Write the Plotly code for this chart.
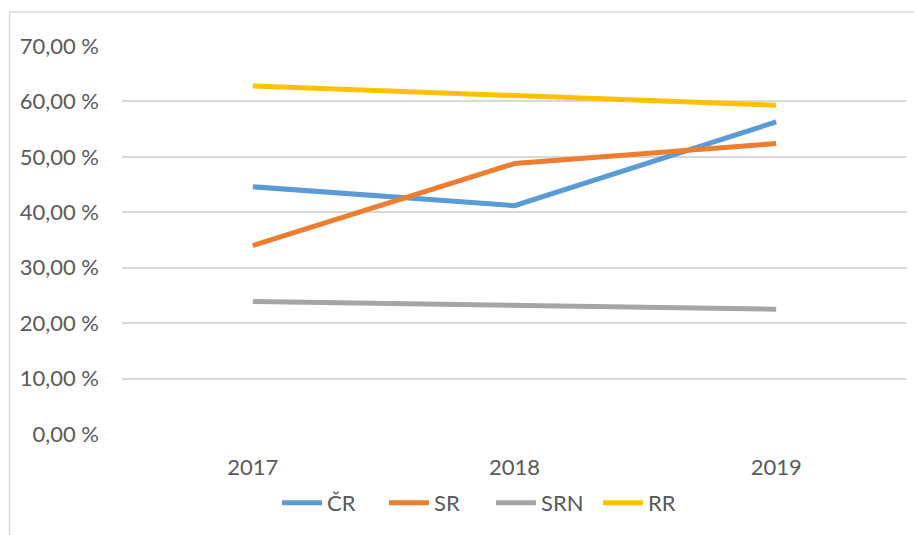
import plotly.graph_objects as go

years = ["2017", "2018", "2019"]
cr = [44.6, 41.2, 56.3]
sr = [34.0, 48.8, 52.4]
srn = [23.9, 23.2, 22.5]
rr = [62.8, 61.0, 59.3]
series_names = ["ČR", "SR", "SRN", "RR"]
colors = ["#5B9BD5", "#ED7D31", "#A5A5A5", "#FFC000"]
tick_vals = [0, 10, 20, 30, 40, 50, 60, 70]
tick_text = ["%d,00 %%" % v for v in tick_vals]

fig = go.Figure()
for name, vals, c in zip(series_names, [cr, sr, srn, rr], colors):
    fig.add_trace(go.Scatter(x=years, y=vals, name=name, mode="lines",
                             line=dict(color=c, width=5)))

OFF = 8  # page body margin
W, H = 922 - OFF, 535 - OFF
L, T = 122 - OFF, 46 - OFF
R = W - (907 - OFF)
B = H - (435 - OFF)
pw, ph = W - L - R, H - T - B


def px(x):
    return (x - OFF - L) / pw


def py(y):
    return (435 - y) / ph


fig.update_layout(
    width=W, height=H,
    margin=dict(l=L, r=R, t=T, b=B),
    paper_bgcolor="white", plot_bgcolor="white",
    font=dict(family="Lato", size=22, color="#595959"),
    hovermode=False,
    showlegend=True,
    legend=dict(orientation="h", x=px(491), xanchor="center",
                y=py(503), yanchor="middle", entrywidth=52,
                font=dict(size=22, color="#595959"), itemwidth=40),
    xaxis=dict(type="category", showgrid=False, showline=False, zeroline=False,
               ticks="", ticklabelstandoff=18, range=[-0.5, 2.5]),
    yaxis=dict(range=[0, 70], tickvals=tick_vals, ticktext=tick_text,
               showgrid=True, gridcolor="#D9D9D9", gridwidth=1.5, zeroline=False,
               showline=False, ticks="", ticklabelstandoff=22),
    shapes=[dict(type="rect", xref="paper", yref="paper",
                 x0=px(9.5), x1=px(940),
                 y0=py(560), y1=py(12),
                 line=dict(color="#D9D9D9", width=1.5), fillcolor="rgba(0,0,0,0)",
                 layer="below")],
)

fig.write_html("out.html")
